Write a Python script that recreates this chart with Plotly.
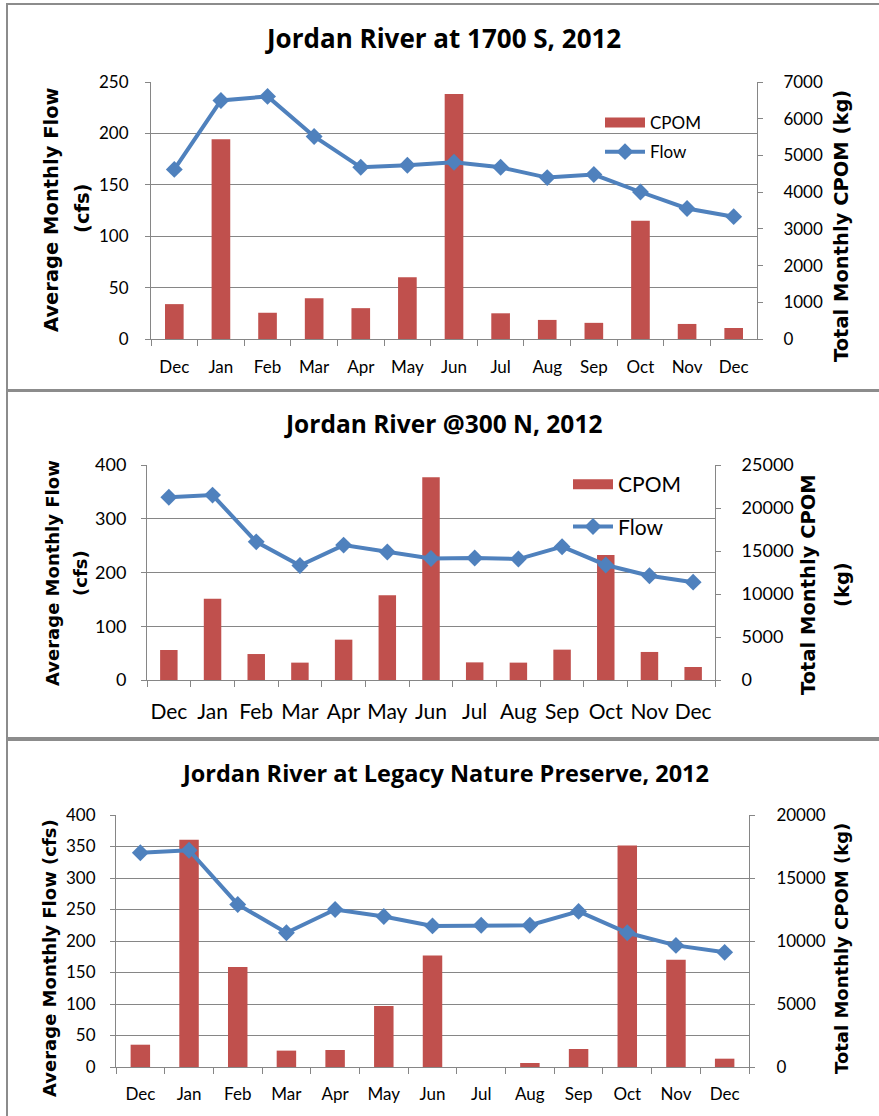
import plotly.graph_objects as go

months = ["Dec", "Jan", "Feb", "Mar", "Apr", "May", "Jun", "Jul", "Aug", "Sep", "Oct", "Nov", "Dec"]
idx = list(range(len(months)))

# Panel 1: Jordan River at 1700 S, 2012
flow_1700 = [165, 232, 236, 197, 167, 169, 172, 167, 157, 160, 143, 127, 119]
cpom_1700 = [950, 5440, 715, 1110, 840, 1680, 6670, 700, 520, 440, 3220, 410, 300]

# Panel 2: Jordan River @300 N, 2012
flow_300n = [340, 344, 257, 213, 251, 238, 226, 227, 225, 248, 214, 194, 182]
cpom_300n = [3490, 9460, 3020, 2020, 4690, 9850, 23570, 2050, 2020, 3530, 14540, 3260, 1510]

# Panel 3: Jordan River at Legacy Nature Preserve, 2012
flow_legacy = [340, 344, 258, 213, 250, 239, 224, 225, 225, 247, 213, 193, 182]
cpom_legacy = [1770, 18040, 7940, 1300, 1350, 4840, 8840, 0, 320, 1430, 17570, 8520, 660]

titles = ["Jordan River at 1700 S, 2012",
          "Jordan River @300 N, 2012",
          "Jordan River at Legacy Nature Preserve, 2012"]

BAR = "#C0504D"
LINE = "#4F81BD"
GRID = "#868686"
W, H = 879, 1116

def px(x):
    return x / W

def py(y):
    return 1 - y / H

fig = go.Figure()

panels = [
    dict(flow=flow_1700, cpom=cpom_1700, x="x", yb="y", yf="y2", legend="legend"),
    dict(flow=flow_300n, cpom=cpom_300n, x="x2", yb="y3", yf="y4", legend="legend2"),
    dict(flow=flow_legacy, cpom=cpom_legacy, x="x3", yb="y5", yf="y6", legend=None),
]

for p in panels:
    show = p["legend"] is not None
    fig.add_trace(go.Bar(
        x=idx, y=p["cpom"], name="CPOM", marker=dict(color=BAR, line=dict(width=0)),
        width=0.4, xaxis=p["x"], yaxis=p["yb"], showlegend=False,
    ))
    fig.add_trace(go.Scatter(
        x=idx, y=p["flow"], name="Flow", mode="lines+markers",
        line=dict(color=LINE, width=4),
        marker=dict(symbol="diamond", size=13, color=LINE),
        xaxis=p["x"], yaxis=p["yf"], showlegend=show,
        legend=p["legend"] if show else None, legendgroup="f" + p["x"], legendrank=2,
    ))
    if show:
        # legend swatch for the CPOM bars (Excel-style wide rectangle)
        fig.add_trace(go.Scatter(
            x=[None], y=[None], name="CPOM", mode="lines",
            line=dict(color=BAR, width=12), xaxis=p["x"], yaxis=p["yb"],
            showlegend=True, legend=p["legend"], legendgroup="c" + p["x"], legendrank=1,
            hoverinfo="skip",
        ))

def xax(domain, anchor, fsize, standoff):
    return dict(domain=domain, anchor=anchor, type="category", automargin=False,
                tickmode="array", tickvals=idx, ticktext=months, tickangle=0,
                tickson="boundaries", ticks="outside", ticklen=6, tickcolor=GRID,
                showline=True, linecolor=GRID, linewidth=1, showgrid=False,
                tickfont=dict(family="Lato", size=fsize, color="black"),
                ticklabelstandoff=standoff, range=[-0.5, 12.5])

def yax_cpom(domain, anchor, rng, dtick, fsize, standoff):
    return dict(domain=domain, anchor=anchor, side="right", range=rng, dtick=dtick,
                automargin=False, tickformat="d",
                showgrid=False, zeroline=False, showline=True, linecolor=GRID,
                ticks="outside", ticklen=5, tickcolor=GRID,
                tickfont=dict(family="Lato", size=fsize, color="black"),
                ticklabelstandoff=standoff)

def yax_flow(overlay, anchor, rng, dtick, fsize, standoff):
    return dict(overlaying=overlay, anchor=anchor, side="left", range=rng, dtick=dtick,
                automargin=False, tickformat="d",
                showgrid=True, gridcolor=GRID, gridwidth=1, zeroline=False,
                showline=True, linecolor=GRID,
                ticks="outside", ticklen=5, tickcolor=GRID,
                tickfont=dict(family="Lato", size=fsize, color="black"),
                ticklabelstandoff=standoff)

fig.update_layout(
    width=W, height=H, margin=dict(l=0, r=0, t=0, b=0, autoexpand=False),
    paper_bgcolor="white", plot_bgcolor="white",
    xaxis=xax([px(151), px(757)], "y", 17, 13),
    yaxis=yax_cpom([py(339), py(82)], "x", [0, 7000], 1000, 17, 17),
    yaxis2=yax_flow("y", "x", [0, 250], 50, 17, 13),
    xaxis2=xax([px(147), px(715)], "y3", 21, 13),
    yaxis3=yax_cpom([py(680), py(465)], "x2", [0, 25000], 5000, 18, 17),
    yaxis4=yax_flow("y3", "x2", [0, 400], 100, 18, 11),
    xaxis3=xax([px(116), px(749)], "y5", 17, 12),
    yaxis5=yax_cpom([py(1067), py(815)], "x3", [0, 20000], 5000, 17, 18),
    yaxis6=yax_flow("y5", "x3", [0, 400], 50, 17, 11),
    legend=dict(x=px(600), y=py(105), xanchor="left", yanchor="top",
                bgcolor="rgba(0,0,0,0)", font=dict(family="Lato", size=17, color="black"),
                itemwidth=40, traceorder="grouped", tracegroupgap=4),
    legend2=dict(x=px(568), y=py(464), xanchor="left", yanchor="top",
                 bgcolor="rgba(0,0,0,0)", font=dict(family="Lato", size=21, color="black"),
                 itemwidth=40, traceorder="grouped", tracegroupgap=12),
)

# panel frames
for y0, y1 in [(4, 390), (391, 738), (740, 1125)]:
    fig.add_shape(type="rect", xref="paper", yref="paper",
                  x0=px(7), x1=1.02, y0=py(y1), y1=py(y0),
                  line=dict(color="#8c8c8c", width=2), fillcolor="rgba(0,0,0,0)", layer="below")

# chart titles
for t, (cx, cy), fs in zip(titles, [(443, 38), (443, 423), (445, 773)], [26, 24.5, 23.5]):
    fig.add_annotation(text="<b>" + t + "</b>", x=px(cx), y=py(cy), xref="paper", yref="paper",
                       showarrow=False, xanchor="center", yanchor="middle",
                       font=dict(family="Open Sans", size=fs, color="black"))

# axis titles
axis_titles = [
    ("Average Monthly Flow", 51, 210, 19.5),
    ("(cfs)", 82, 209, 19.5),
    ("Total Monthly CPOM (kg)", 842, 226, 19.5),
    ("Average Monthly Flow", 52, 573, 18),
    ("(cfs)", 80, 573, 18),
    ("Total Monthly CPOM", 808, 585, 19.5),
    ("(kg)", 842, 585, 19.5),
    ("Average Monthly Flow (cfs)", 49, 958, 18),
    ("Total Monthly CPOM (kg)", 842, 949, 18),
]
for t, cx, cy, fs in axis_titles:
    fig.add_annotation(text="<b>" + t + "</b>", x=px(cx), y=py(cy), xref="paper", yref="paper",
                       showarrow=False, textangle=-90, xanchor="center", yanchor="middle",
                       font=dict(family="DejaVu Sans", size=fs, color="black"))

fig.write_html("out.html", config={"displayModeBar": False},
               post_script="document.body.style.margin='0';document.body.style.overflow='hidden';")
